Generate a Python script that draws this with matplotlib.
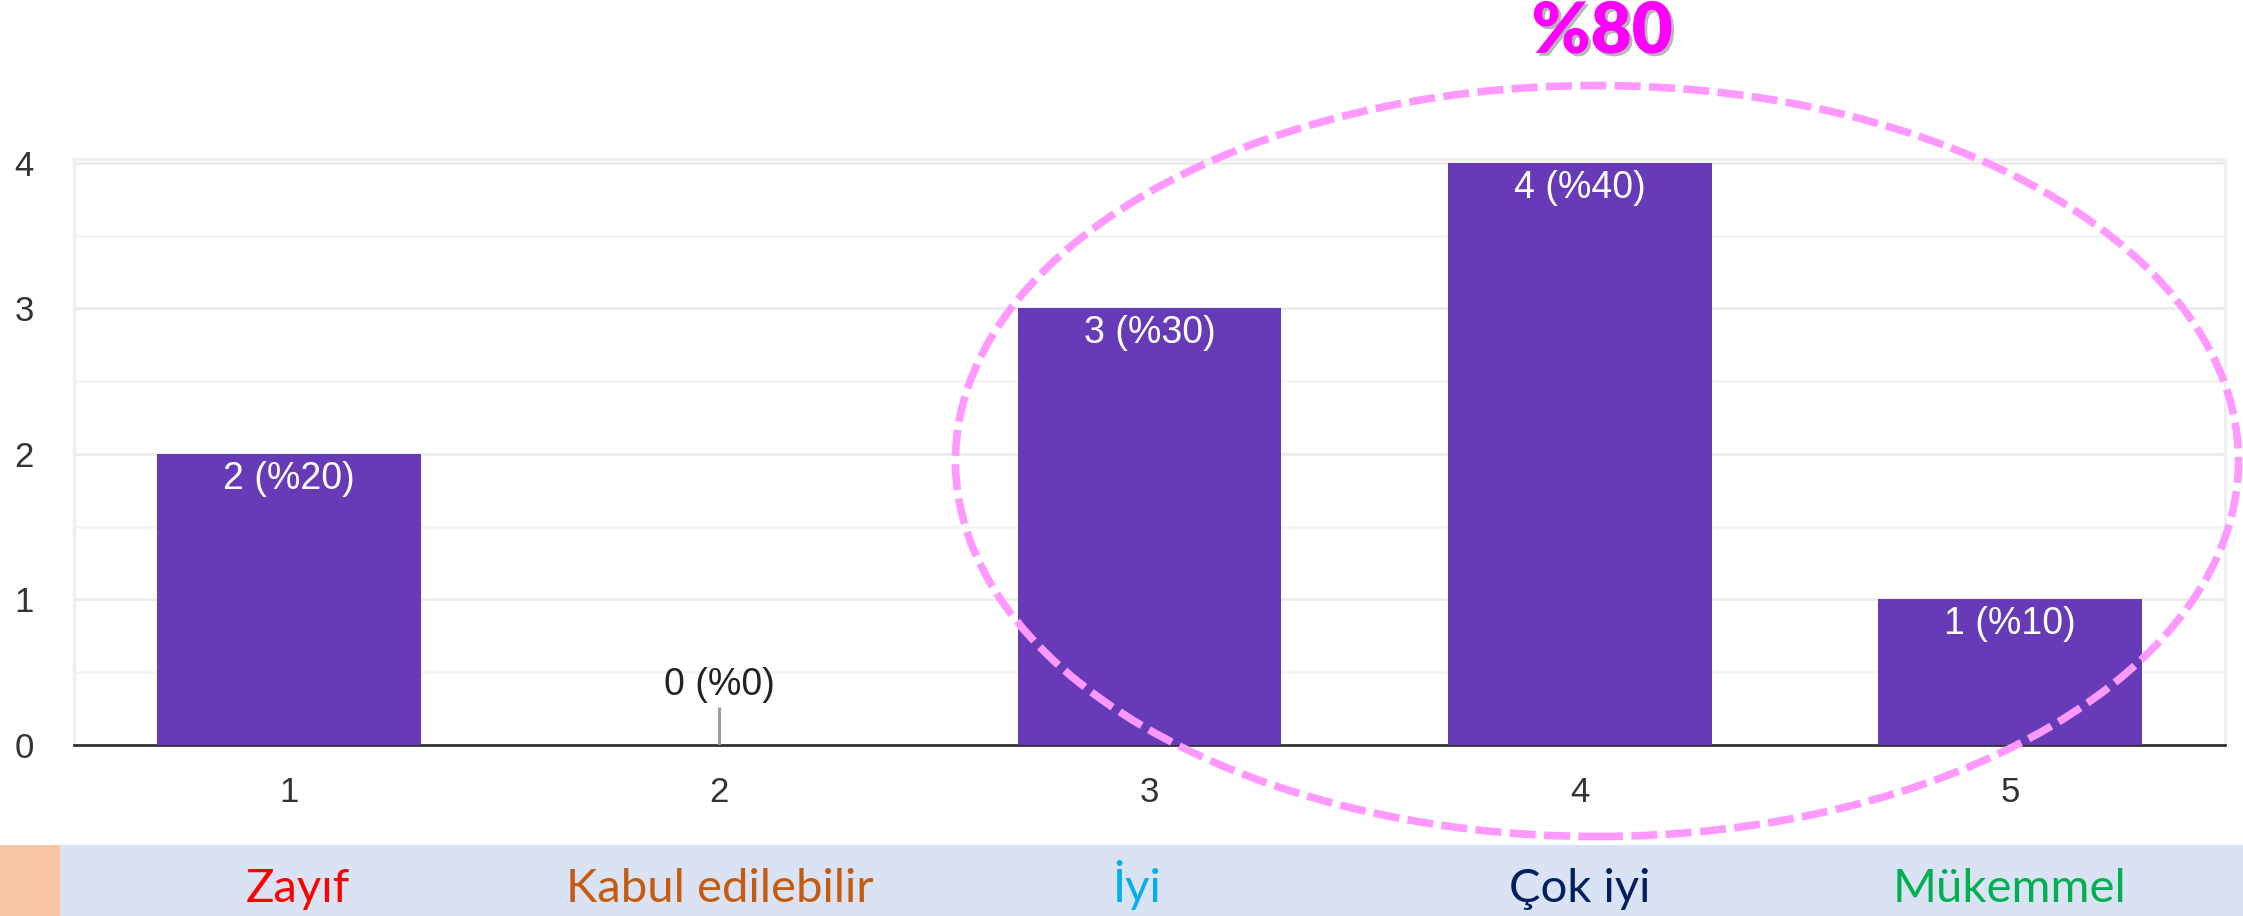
import matplotlib.pyplot as plt
import matplotlib.patheffects as pe
from matplotlib.patches import Ellipse, Rectangle
from matplotlib.ticker import MultipleLocator
import matplotlib.transforms as mtransforms

# data
categories = [1, 2, 3, 4, 5]
counts = [2, 0, 3, 4, 1]
percents = [20, 0, 30, 40, 10]
band_labels = ['Zayıf', 'Kabul edilebilir', 'İyi', 'Çok iyi', 'Mükemmel']
band_colors = ['#FF0000', '#C55A11', '#00B0F0', '#002060', '#00B050']
highlight_text = '%80'

W, H = 2243, 916
fig = plt.figure(figsize=(W / 100, H / 100), dpi=100)
fig.patch.set_facecolor('white')

ax = fig.add_axes([74 / W, 1 - 745 / H, (2225 - 74) / W, (745 - 158.6) / H])
ax.set_xlim(0.5, 5.5)
ax.set_ylim(0, 4.03)

ax.bar(categories, counts, width=0.613, color='#673AB7', zorder=3)

# zero-value marker and labels
for c, v, p in zip(categories, counts, percents):
    lab = '%d (%%%d)' % (v, p)
    if v == 0:
        ax.vlines(c, 0, 0.26, color='#9E9E9E', lw=2.2, zorder=3)
        ax.text(c, 0.41, lab, ha='center', va='center', fontsize=27,
                family='Liberation Sans', color='#222222', zorder=4)
    else:
        ax.annotate(lab, (c, v), xytext=(0, -18), textcoords='offset points',
                    ha='center', va='center', fontsize=27,
                    family='Liberation Sans', color='white', zorder=4)

ax.yaxis.set_major_locator(MultipleLocator(1))
ax.yaxis.set_minor_locator(MultipleLocator(0.5))
ax.grid(which='major', axis='y', color='#EBEBEB', lw=2, zorder=0)
ax.grid(which='minor', axis='y', color='#F4F4F4', lw=2, zorder=0)
ax.set_xticks(categories)
ax.tick_params(axis='both', which='both', length=0)
ax.tick_params(axis='y', pad=29)
ax.tick_params(axis='x', pad=22)
for t in ax.get_xticklabels() + ax.get_yticklabels():
    t.set_fontsize(25)
    t.set_family('Liberation Sans')
    t.set_color('#333333')
for s in ['top', 'left', 'right']:
    ax.spines[s].set_color('#EFEFEF')
    ax.spines[s].set_linewidth(2.5)
ax.spines['bottom'].set_color('#333333')
ax.spines['bottom'].set_linewidth(2)
ax.set_facecolor('white')

# bottom band
fig.patches.append(Rectangle((0, 0), 1, 71 / H, transform=fig.transFigure,
                             facecolor='#DAE3F3', edgecolor='none', zorder=0))
fig.patches.append(Rectangle((0, 0), 60 / W, 71 / H, transform=fig.transFigure,
                             facecolor='#F7C6A3', edgecolor='none', zorder=1))
band_tr = mtransforms.blended_transform_factory(ax.transData, fig.transFigure)
band_x = [1.02, 2.0, 2.97, 4.0, 5.0]
for x, lab, col in zip(band_x, band_labels, band_colors):
    fig.text(x, 14 / H, lab, transform=band_tr, ha='center', va='baseline',
             fontsize=34, family='Lato', color=col)

# highlight ellipse and text
ell = Ellipse((1597 / W, 1 - 461 / H), 1283 / W, 751 / H, transform=fig.transFigure,
              fill=False, edgecolor='#FF99FF', lw=5.5, linestyle=(0, (3.4, 1.1)),
              zorder=10)
fig.patches.append(ell)
fig.text(1602 / W, 1 - 32 / H, highlight_text, ha='center', va='center',
         fontsize=51, fontweight='heavy', family='Lato', color='#FF00FF',
         path_effects=[pe.withSimplePatchShadow(offset=(2, -2), shadow_rgbFace='#888888', alpha=0.6)])

fig.savefig('out.png', dpi=100)
